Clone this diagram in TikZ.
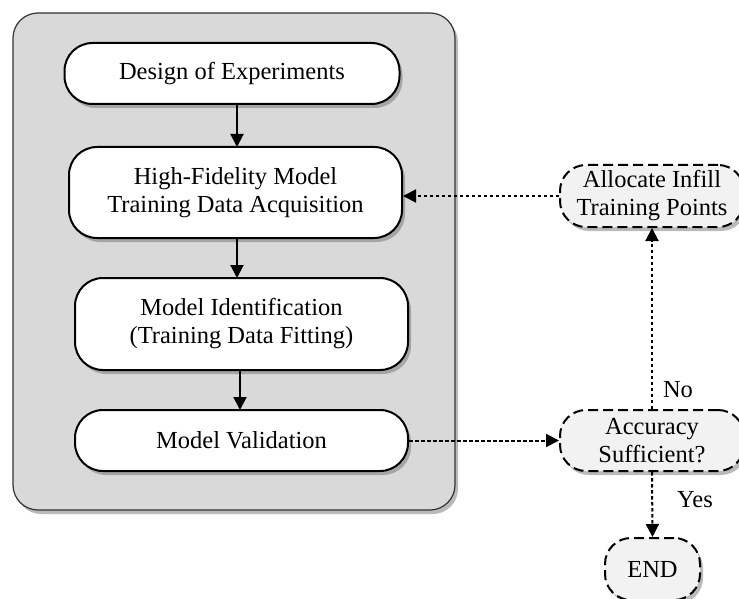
\documentclass[tikz,border=0pt]{standalone}
\usepackage{fontspec}
\setmainfont{Liberation Serif}
\usetikzlibrary{shadows,arrows.meta}
\begin{document}
\begin{tikzpicture}[x=1pt,y=-1pt,
  font=\fontsize{24.5}{28}\selectfont,
  shad/.style={drop shadow={shadow xshift=3pt,shadow yshift=-4pt,opacity=0.45,fill=black!60}},
  mainbox/.style={draw=black,line width=2pt,fill=white,rounded corners=28pt,align=center,inner sep=0pt,shad},
  sidebox/.style={draw=black,line width=2pt,dash pattern=on 10pt off 5pt,fill=black!5,rounded corners=26pt,align=center,inner sep=0pt,shad},
  solidarrow/.style={line width=2pt,-{Triangle[length=13pt,width=13pt]}},
  dotarrow/.style={line width=2pt,dash pattern=on 3.5pt off 2.5pt,-{Triangle[length=13pt,width=13pt]}},
  lbl/.style={inner sep=0pt}]
\useasboundingbox (0,0) rectangle (739,599);
\node[draw=black!80,line width=1.2pt,fill=black!15,rounded corners=25pt,minimum width=442pt,minimum height=497pt,shad] (cont) at (234,261.5) {};
\node[mainbox,minimum width=335pt,minimum height=61pt] (doe) at (232,73.5) {Design of Experiments};
\node[mainbox,minimum width=333pt,minimum height=91pt] (hf) at (235.5,192.5) {High-Fidelity Model\\Training Data Acquisition};
\node[mainbox,minimum width=333pt,minimum height=92pt] (mi) at (241.5,324) {Model Identification\\(Training Data Fitting)};
\node[mainbox,minimum width=333pt,minimum height=61pt] (mv) at (241.5,440.5) {Model Validation};
\node[sidebox,minimum width=184pt,minimum height=62pt] (alloc) at (652,196) {Allocate Infill\\Training Points};
\node[sidebox,minimum width=184pt,minimum height=61pt] (acc) at (652,440.5) {Accuracy\\Sufficient?};
\node[sidebox,minimum width=95pt,minimum height=62pt] (end) at (652.5,569) {END};
\draw[solidarrow] (237,104) -- (237,147);
\draw[solidarrow] (237,238) -- (237,278);
\draw[solidarrow] (240,370) -- (240,410);
\draw[dotarrow] (alloc.west |- 0,196) -- (hf.east |- 0,196);
\draw[dotarrow] (mv.east) -- (acc.west);
\draw[dotarrow] (acc.north) -- (alloc.south);
\draw[dotarrow] (acc.south) -- (end.north);
\node[lbl] (no) at (678,390) {No};
\node[lbl] (yes) at (695,500) {Yes};
\end{tikzpicture}
\end{document}
